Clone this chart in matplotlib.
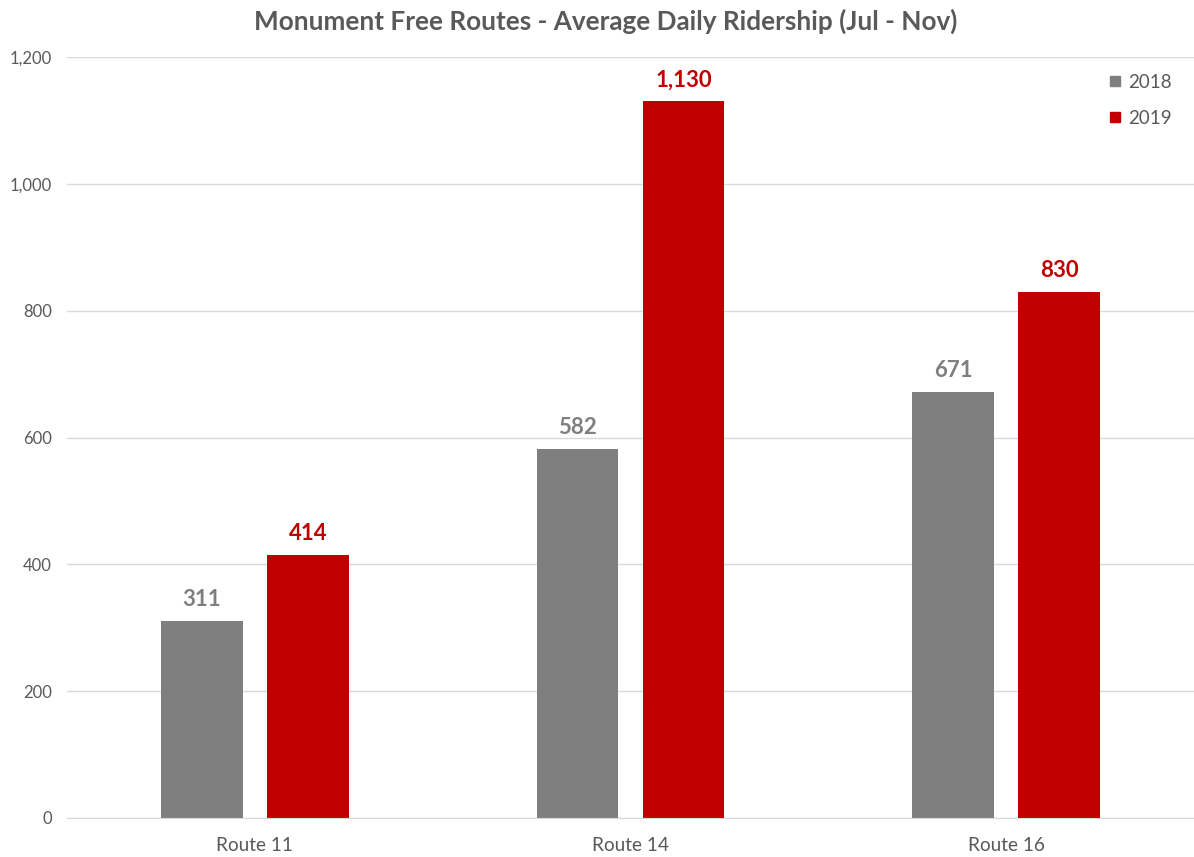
import matplotlib
matplotlib.use("Agg")
import matplotlib.pyplot as plt
import numpy as np
from matplotlib.lines import Line2D

categories = ["Route 11", "Route 14", "Route 16"]
series_names = ["2018", "2019"]
values_2018 = [311, 582, 671]
values_2019 = [414, 1130, 830]
yticks = [0, 200, 400, 600, 800, 1000, 1200]

gray = "#7F7F7F"
red = "#C00000"
textc = "#595959"
font = "Lato"

fig = plt.figure(figsize=(11.94, 8.57), dpi=100)
ax = fig.add_axes([67/1194, 1-818/857, 1-67/1194, (818-57)/857])

x = np.arange(len(categories))
w = 0.218
off = 0.141
b1 = ax.bar(x - off, values_2018, w, color=gray, zorder=3)
b2 = ax.bar(x + off, values_2019, w, color=red, zorder=3)

for bars, vals, c in [(b1, values_2018, gray), (b2, values_2019, red)]:
    for r, v in zip(bars, vals):
        ax.annotate(f"{v:,}", (r.get_x() + r.get_width()/2, v), xytext=(0, 8),
                    textcoords="offset points", ha="center", va="bottom",
                    fontsize=16, fontweight="bold", color=c, family=font)

ax.set_xlim(-0.5, 2.5)
ax.set_ylim(0, 1200)
ax.set_yticks(yticks)
ax.set_yticklabels([f"{t:,}" for t in yticks], family=font, fontsize=12, color=textc)
ax.set_xticks(x)
ax.set_xticklabels(categories, family=font, fontsize=13.7, color=textc)
ax.tick_params(length=0)
ax.tick_params(axis="y", pad=11)
ax.tick_params(axis="x", pad=14)
ax.grid(axis="y", color="#D9D9D9", linewidth=1, zorder=0)
for s in ["top", "right", "left"]:
    ax.spines[s].set_visible(False)
ax.spines["bottom"].set_color("#D9D9D9")
ax.spines["bottom"].set_zorder(4)

handles = [Line2D([], [], marker="s", linestyle="none", color=gray, markersize=7.5),
           Line2D([], [], marker="s", linestyle="none", color=red, markersize=7.5)]
leg = ax.legend(handles, series_names, loc="upper right", bbox_to_anchor=(0.995, 1.0),
                frameon=False, prop={"family": font, "size": 13.5}, labelcolor=textc,
                handletextpad=0.2, labelspacing=1.0, handlelength=1.0)

fig.text(0.5075, 0.975, "Monument Free Routes - Average Daily Ridership (Jul - Nov)",
         ha="center", va="center", fontsize=18.8, fontweight="bold", color=textc, family=font)

fig.savefig("out.png", dpi=100)
